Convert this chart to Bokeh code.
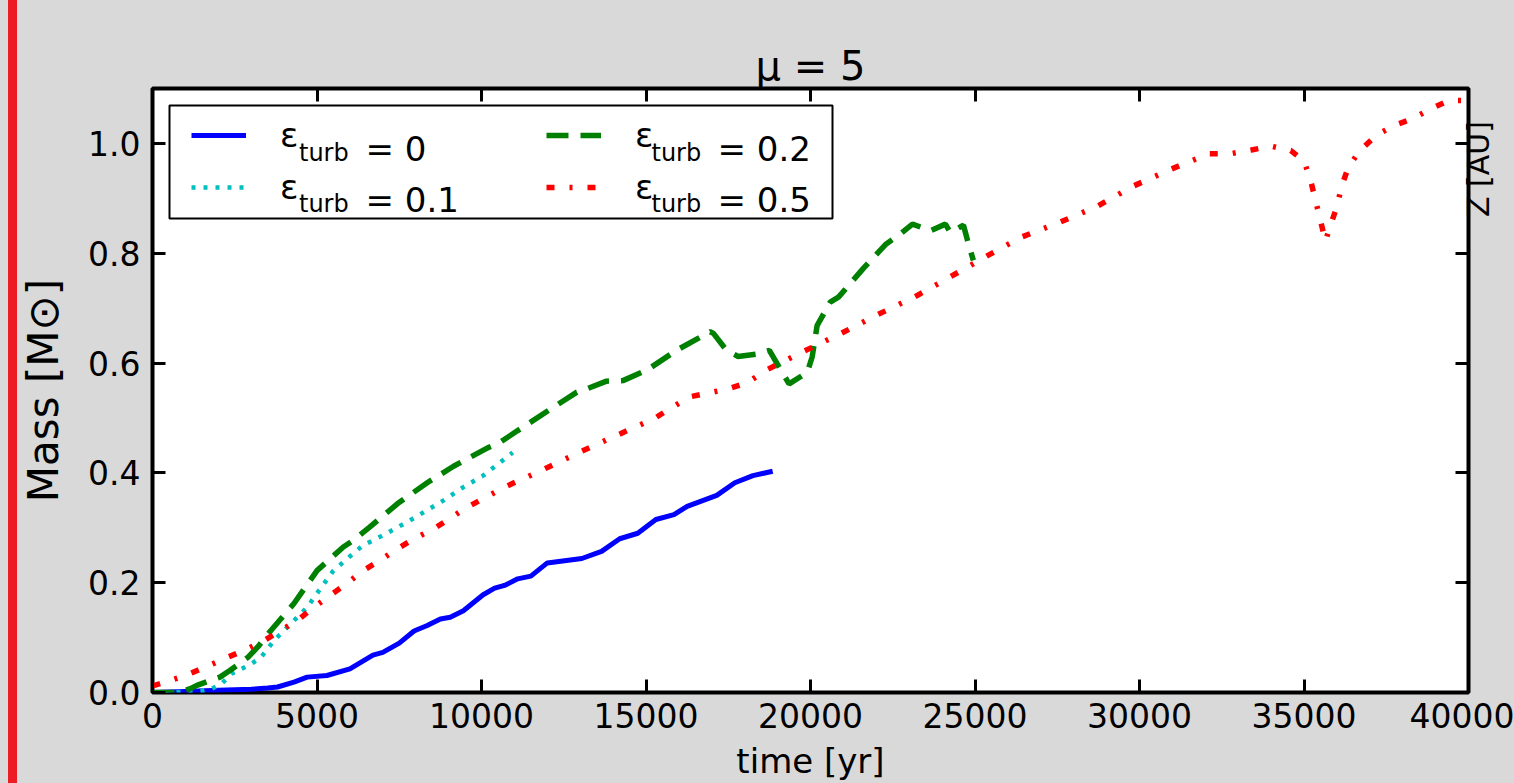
import math
from bokeh.plotting import figure
from bokeh.layouts import row
from bokeh.models import (Range1d, LinearAxis, FixedTicker, PrintfTickFormatter,
                          CustomJSTickFormatter, Label, BoxAnnotation, Legend, LegendItem, Div)
from bokeh.embed import file_html
from bokeh.resources import INLINE

# ---------------- data ----------------
X_TICKS = [0, 5000, 10000, 15000, 20000, 25000, 30000, 35000, 40000]
Y_TICKS = [0.0, 0.2, 0.4, 0.6, 0.8, 1.0]

T_E0 = [0, 1000, 2000, 3000, 3500, 3800, 4300, 4700, 5300, 6000, 6700, 7000, 7500, 7950,
        8350, 8750, 9050, 9450, 10050, 10400, 10700, 11100, 11500, 12000, 13050, 13650,
        14200, 14750, 15300, 15850, 16250, 17150, 17700, 18250, 18850]
M_E0 = [0.0, 0.002, 0.004, 0.006, 0.008, 0.010, 0.019, 0.028, 0.031, 0.043, 0.068, 0.073,
        0.090, 0.112, 0.122, 0.134, 0.137, 0.149, 0.178, 0.190, 0.195, 0.207, 0.212, 0.236,
        0.244, 0.257, 0.280, 0.290, 0.315, 0.324, 0.339, 0.359, 0.382, 0.395, 0.403]

T_E01 = [0, 500, 1000, 1500, 1800, 2100, 2400, 3000, 3300, 3700, 4200, 4700, 5100, 5500,
         6100, 6400, 7000, 7900, 8850, 9450, 10050, 10650, 10950]
M_E01 = [0.0, 0.0, 0.001, 0.003, 0.007, 0.016, 0.034, 0.052, 0.064, 0.095, 0.125, 0.155,
         0.189, 0.222, 0.253, 0.268, 0.286, 0.316, 0.350, 0.374, 0.395, 0.423, 0.437]

T_E02 = [0, 800, 1150, 1350, 2050, 2350, 2900, 3200, 3600, 4300, 5000, 5800, 6100, 6600,
         7450, 8350, 9150, 10200, 10500, 11100, 12200, 12900, 13200, 13800, 14300, 15050,
         15950, 16950, 17050, 17450, 17800, 18450, 18750, 19100, 19350, 19900, 20050, 20200,
         20600, 20850, 21600, 22300, 22750, 23100, 23650, 24100, 24250, 24650, 24800, 24950]
M_E02 = [0.0, 0.0, 0.007, 0.013, 0.028, 0.040, 0.064, 0.083, 0.113, 0.162, 0.222, 0.265,
         0.277, 0.301, 0.344, 0.382, 0.412, 0.446, 0.453, 0.477, 0.520, 0.547, 0.553, 0.567,
         0.568, 0.588, 0.624, 0.657, 0.654, 0.623, 0.612, 0.617, 0.623, 0.587, 0.562, 0.583,
         0.611, 0.668, 0.711, 0.720, 0.772, 0.817, 0.836, 0.853, 0.841, 0.853, 0.838, 0.851,
         0.817, 0.787]

T_E05 = [0, 400, 1000, 1600, 2150, 2800, 3400, 3900, 4400, 4900, 5400, 5900, 6400, 6900,
         7450, 7950, 8550, 9550, 10700, 11800, 13000, 14100, 15250, 16300, 17500, 18100,
         18650, 19750, 20900, 22000, 23150, 24250, 25300, 26400, 27600, 28700, 29800, 31000,
         32100, 32750, 33400, 34000, 34600, 35000, 35200, 35350, 35500, 35650, 35800, 36000,
         36150, 36350, 36700, 37200, 37750, 38300, 38850, 39400, 40000]
M_E05 = [0.012, 0.019, 0.031, 0.046, 0.061, 0.077, 0.095, 0.113, 0.131, 0.155, 0.177, 0.198,
         0.222, 0.240, 0.262, 0.280, 0.298, 0.337, 0.374, 0.404, 0.438, 0.468, 0.499, 0.538,
         0.553, 0.565, 0.587, 0.620, 0.653, 0.687, 0.720, 0.757, 0.793, 0.829, 0.857, 0.885,
         0.922, 0.954, 0.981, 0.981, 0.988, 0.995, 0.987, 0.968, 0.933, 0.896, 0.860, 0.822,
         0.850, 0.885, 0.923, 0.957, 0.987, 1.015, 1.033, 1.045, 1.063, 1.078, 1.078]

LEGEND_VALUES = ["0", "0.1", "0.2", "0.5"]

# ---------------- layout helpers (pixel -> data) ----------------
W, H = 1514, 783
FL, FR, FT, FB = 152, 1468, 88, 692
XMAX, YMAX = 40000, 1.1


def dx(px):
    return (px - FL) / (FR - FL) * XMAX


def dy(py):
    return (FB - py) / (FB - FT) * YMAX


FONT = "DejaVu Sans"
GRAY = "#d9d9d9"
RED_BAR = "#ed1c24"

p = figure(width=W, height=H, x_range=Range1d(0, XMAX), y_range=Range1d(0, YMAX),
           output_backend="svg", toolbar_location=None,
           min_border_left=FL, min_border_right=W - FR,
           min_border_top=FT, min_border_bottom=H - FB)
# transparent canvas border, page-element background carries grey + red stripe
p.border_fill_alpha = 0
p.styles = {"background": ("linear-gradient(to right, %s 0px, %s 8px, %s 8px, %s 17px, %s 17px, %s 100%%)"
                           % (GRAY, GRAY, RED_BAR, RED_BAR, GRAY, GRAY))}
p.background_fill_color = "white"
p.outline_line_color = "black"
p.outline_line_width = 4
p.grid.visible = False

p.title.text = "μ = 5"
p.title.align = "center"
p.title.text_font = FONT
p.title.text_font_size = "40px"
p.title.text_font_style = "normal"
p.title.text_color = "black"
p.title.standoff = 0


def style_axis(ax):
    ax.axis_line_color = None
    ax.major_tick_in = 13
    ax.major_tick_out = 0
    ax.major_tick_line_width = 3
    ax.major_tick_line_color = "black"
    ax.minor_tick_line_color = None
    ax.major_label_text_font = FONT
    ax.major_label_text_font_size = "33px"
    ax.major_label_text_color = "black"
    ax.axis_label_text_font = FONT
    ax.axis_label_text_font_style = "normal"
    ax.axis_label_text_color = "black"


xa = p.xaxis[0]
xa.ticker = FixedTicker(ticks=X_TICKS)
xa.formatter = PrintfTickFormatter(format="%d")
style_axis(xa)
xa.major_label_standoff = 10
xa.axis_label = "time [yr]"
xa.axis_label_text_font_size = "34px"
xa.axis_label_standoff = 10

ya = p.yaxis[0]
ya.ticker = FixedTicker(ticks=Y_TICKS)
ya.formatter = PrintfTickFormatter(format="%.1f")
style_axis(ya)
ya.major_label_standoff = 12
ya.axis_label = "Mass [M⊙]"
ya.axis_label_text_font_size = "42px"
ya.axis_label_standoff = 17

top = LinearAxis(ticker=FixedTicker(ticks=X_TICKS), formatter=CustomJSTickFormatter(code="return ''"))
style_axis(top)
top.major_label_standoff = 6
p.add_layout(top, "above")

right = LinearAxis(ticker=FixedTicker(ticks=Y_TICKS), formatter=CustomJSTickFormatter(code="return ''"))
style_axis(right)
right.major_label_standoff = 0
p.add_layout(right, "right")

# ---------------- lines ----------------
r0 = p.line(T_E0, M_E0, line_color="#0000ff", line_width=5, line_join="round")
r1 = p.line(T_E01, M_E01, line_color="#00bfbf", line_width=4.5, line_dash="4 8")
r2 = p.line(T_E02, M_E02, line_color="#008000", line_width=5.5, line_dash="22 12")
r3 = p.line(T_E05, M_E05, line_color="#ff0000", line_width=5.5, line_dash="8 15 3 15")

# legend frame
p.add_layout(BoxAnnotation(left=dx(169), right=dx(832), top=dy(105), bottom=dy(218),
                           fill_color="white", fill_alpha=1, line_color="black",
                           line_alpha=1, line_width=2))


def make_legend(items, left_px):
    lg = Legend(items=items, location=(left_px - FL, FB - 211), orientation="vertical",
                glyph_width=55, glyph_height=48, label_height=48, label_standoff=34,
                spacing=4, padding=0, margin=0, border_line_color=None,
                background_fill_alpha=0, label_text_font=FONT, label_text_font_size="34px",
                label_text_color="black")
    return lg


lg1 = make_legend([LegendItem(label="ε", renderers=[r0]), LegendItem(label="ε", renderers=[r1])], 191)
lg2 = make_legend([LegendItem(label="ε", renderers=[r2]), LegendItem(label="ε", renderers=[r3])], 546)
p.add_layout(lg1)
p.add_layout(lg2)

# legend subscripts and values
leg_pos = [(298.5, 365, 152.7, 148.3), (298.5, 365, 203.3, 199.0),
           (651, 717, 152.7, 148.3), (651, 717, 203.3, 199.0)]
for val, (xs, xv, ys, yv) in zip(LEGEND_VALUES, leg_pos):
    p.add_layout(Label(x=dx(xs), y=dy(ys), text="turb", text_font=FONT, text_font_size="24px",
                       text_align="left", text_baseline="alphabetic", text_color="black"))
    p.add_layout(Label(x=dx(xv), y=dy(yv), text="= " + val, text_font=FONT, text_font_size="34px",
                       text_align="left", text_baseline="alphabetic", text_color="black"))

# right-hand rotated label of the neighbouring panel, placed over the grey margin
zdiv = Div(text="Z [AU]", width=0, height=0,
           styles={"position": "absolute", "left": "1462px", "top": "217px",
                   "transform": "rotate(-90deg)", "transform-origin": "0 0",
                   "font-family": FONT, "font-size": "30px", "line-height": "34px",
                   "white-space": "nowrap", "overflow": "visible", "color": "black",
                   "margin": "0", "padding": "0", "z-index": "10"})

layout = row(p, zdiv)
open("out.html", "w").write(file_html(layout, INLINE))
